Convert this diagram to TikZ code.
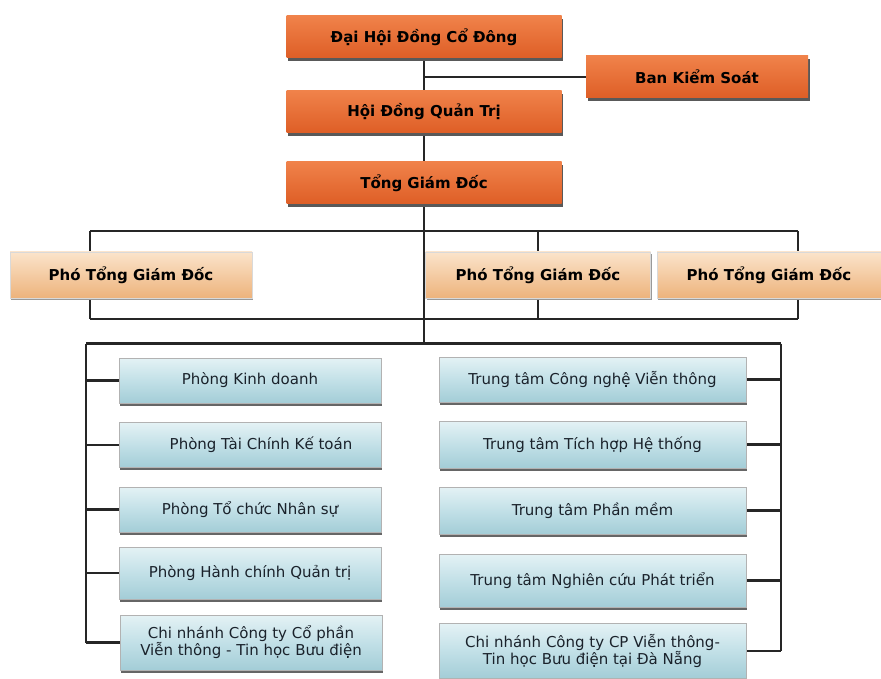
\documentclass[tikz,border=0pt]{standalone}
\usepackage{fontspec}
\setmainfont{DejaVu Sans}
\usetikzlibrary{shadows,backgrounds}
\definecolor{camTren}{HTML}{F0824A}
\definecolor{camDuoi}{HTML}{DE5E26}
\definecolor{daoTren}{HTML}{FBE4CB}
\definecolor{daoDuoi}{HTML}{EDB37C}
\definecolor{xanhTren}{HTML}{E4F2F5}
\definecolor{xanhGiua}{HTML}{C2E0E7}
\definecolor{xanhDuoi}{HTML}{A3CDD7}
\definecolor{chuXanh}{HTML}{1A222B}

\begin{document}
\begin{tikzpicture}[x=1pt,y=-1pt,
  capcao/.style={top color=camTren,bottom color=camDuoi,draw=none,minimum width=275pt,minimum height=42pt,
    font=\fontsize{15}{17}\selectfont\bfseries,
    drop shadow={shadow xshift=1.5pt,shadow yshift=-3pt,fill=black!65,opacity=1}},
  photong/.style={top color=daoTren,bottom color=daoDuoi,draw=black!15,minimum height=46pt,
    font=\fontsize{15}{17}\selectfont\bfseries,
    drop shadow={shadow xshift=1pt,shadow yshift=-2pt,fill=black!40,opacity=1}},
  phong/.style={top color=xanhTren,bottom color=xanhDuoi,middle color=xanhGiua,draw=black!30,
    minimum height=45pt,align=center,text=chuXanh,font=\fontsize{15}{17}\selectfont,
    drop shadow={shadow xshift=1pt,shadow yshift=-2.5pt,fill=black!60,opacity=1}},
  trai/.style={phong,minimum width=262pt},
  phai/.style={phong,minimum width=307pt},
  noi/.style={line width=2.4pt,draw=black!85}]
\useasboundingbox (0,0) rectangle (881,679);

\node[capcao] (dhdcd) at (424,37) {Đại Hội Đồng Cổ Đông};
\node[capcao,minimum width=222pt] (bks) at (697,77) {Ban Kiểm Soát};
\node[capcao] (hdqt) at (424,112) {Hội Đồng Quản Trị};
\node[capcao] (tgd) at (424,183) {Tổng Giám Đốc};

\node[photong,minimum width=242pt] (pho1) at (131,275) {Phó Tổng Giám Đốc};
\node[photong,minimum width=225pt] (pho2) at (538,275) {Phó Tổng Giám Đốc};
\node[photong,minimum width=224pt] (pho3) at (769,275) {Phó Tổng Giám Đốc};

\node[trai] (kd) at (250,380.5) {Phòng Kinh doanh};
\node[trai] (tckt) at (250,445) {\hspace*{22pt}Phòng Tài Chính Kế toán};
\node[trai] (tcns) at (250,509.5) {Phòng Tổ chức Nhân sự};
\node[trai,minimum height=52pt] (hcqt) at (250,573) {Phòng Hành chính Quản trị};
\node[trai,minimum height=55pt] (cnhn) at (251,642.5) {Chi nhánh Công ty Cổ phần\\Viễn thông - Tin học Bưu điện};

\node[phai] (cnvt) at (592.5,379.5) {Trung tâm Công nghệ Viễn thông};
\node[phai,minimum height=47pt] (thht) at (592.5,444.5) {Trung tâm Tích hợp Hệ thống};
\node[phai,minimum height=47pt] (pm) at (592.5,510.5) {Trung tâm Phần mềm};
\node[phai,minimum height=53pt] (nc) at (592.5,580.5) {Trung tâm Nghiên cứu Phát triển};
\node[phai,minimum height=55pt] (cndn) at (592.5,651) {Chi nhánh Công ty CP Viễn thông-\\Tin học Bưu điện tại Đà Nẵng};

\coordinate (tl) at (90,231);
\coordinate (tr) at (798,231);
\coordinate (bl) at (90,319);
\coordinate (br) at (798,319);
\coordinate (lv) at (86,343.5);
\coordinate (rv) at (781,343.5);

\begin{scope}[on background layer={noi}]
\draw (dhdcd) -- (hdqt);
\draw (hdqt) -- (tgd);
\draw (bks.west) -- (bks.west -| dhdcd.south);
\draw (tgd.south) -- (tgd.south |- lv);
\draw (tl) -- (tr);
\draw (bl) -- (br);
\draw (tl) -- (tl |- pho1.north);
\draw (pho1.south -| bl) -- (bl);
\draw (tr) -- (tr |- pho3.north);
\draw (pho3.south -| br) -- (br);
\draw (pho2.north |- tl) -- (pho2.north);
\draw (pho2.south) -- (pho2.south |- bl);
\draw (lv) -- (rv);
\draw (lv) -- (lv |- cnhn.west);
\draw (rv) -- (rv |- cndn.east);
\foreach \n in {kd,tckt,tcns,hcqt,cnhn}
  \draw (\n.west) -- (\n.west -| lv);
\foreach \n in {cnvt,thht,pm,nc,cndn}
  \draw (\n.east) -- (\n.east -| rv);
\end{scope}
\end{tikzpicture}
\end{document}
